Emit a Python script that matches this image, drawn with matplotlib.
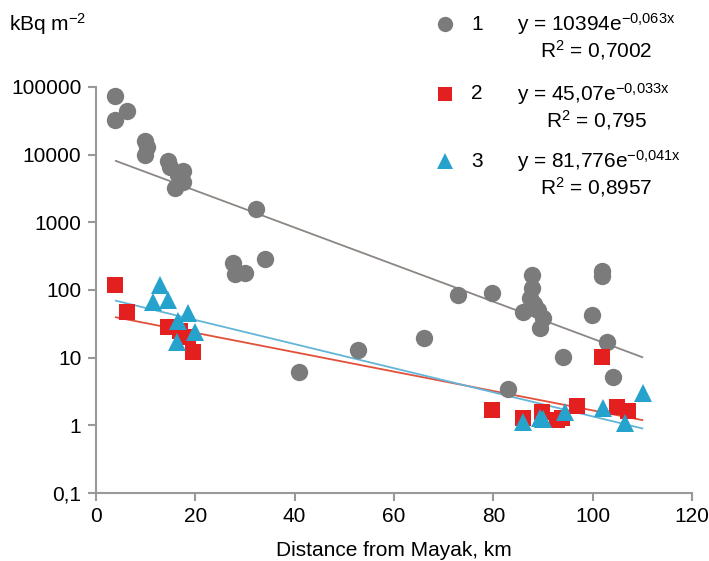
"""Radionuclide deposition vs distance from Mayak."""
import matplotlib

matplotlib.use("Agg")
import matplotlib.pyplot as plt
import matplotlib.ticker as ticker
import numpy

plt.rcParams["font.family"] = ["Liberation Sans", "DejaVu Sans"]
plt.rcParams["font.size"] = 15

# series 1 (grey circles)
dist_1 = [3.8, 3.8, 6.3, 9.9, 10.2, 9.9, 14.5, 15.0, 16.5, 17.5, 17.5, 16.0,
          32.2, 27.6, 28.0, 30.0, 34.0, 40.9, 52.7, 66.0, 72.9, 79.7,
          83.0, 87.8, 87.8, 87.4, 88.2, 86.0, 89.0, 90.0, 89.4, 94.0,
          99.9, 101.9, 101.9, 102.9, 104.1]
val_1 = [73000, 32500, 44000, 16000, 13000, 10000, 8000, 6500, 5000, 5800, 4000, 3200,
         1570, 250, 175, 180, 290, 6.1, 13, 19.5, 84, 90,
         3.4, 165, 107, 76, 62, 47, 50, 38, 27, 10.2,
         42, 190, 160, 17, 5.2]

# series 2 (red squares)
dist_2 = [3.8, 6.2, 14.5, 17.0, 18.5, 19.5, 79.7, 86.0, 89.8, 92.8, 93.8,
          96.8, 101.9, 104.9, 107.1]
val_2 = [118, 48, 28, 25, 20, 12, 1.69, 1.28, 1.6, 1.2, 1.3,
         1.9, 10.2, 1.85, 1.65]

# series 3 (blue triangles)
dist_3 = [12.9, 11.5, 14.5, 18.5, 16.5, 19.9, 16.3,
          86.0, 89.4, 90.0, 94.4, 102.0, 106.5, 110.1]
val_3 = [120, 66, 71, 45, 35, 24, 17,
         1.12, 1.29, 1.22, 1.57, 1.8, 1.07, 3.0]

# exponential fits y = a * exp(b * x)
fit_a = [10394, 45.07, 81.776]
fit_b = [-0.063, -0.033, -0.041]
fit_eq = ["y = 10394$\\mathregular{e^{-0{,}063x}}$",
          "y = 45,07$\\mathregular{e^{-0{,}033x}}$",
          "y = 81,776$\\mathregular{e^{-0{,}041x}}$"]
fit_r2 = ["R$\\mathregular{^2}$ = 0,7002",
          "R$\\mathregular{^2}$ = 0,795",
          "R$\\mathregular{^2}$ = 0,8957"]
fit_range = (4, 110)

y_ticks = [0.1, 1, 10, 100, 1000, 10000, 100000]
y_labels = ["0,1", "1", "10", "100", "1000", "10000", "100000"]

colors = ["#7b7b7b", "#e3201f", "#26a3cc"]
line_colors = ["#8c8683", "#e2503a", "#63b5d8"]
markers = ["o", "s", "^"]
sizes = [12.5, 11, 12.5]

fig = plt.figure(figsize=(7.09, 5.61), dpi=100)
ax = fig.add_axes([0.1354, 0.1212, 0.8406, 0.7238])

xs = numpy.linspace(fit_range[0], fit_range[1], 50)
for a, b, c in zip(fit_a, fit_b, line_colors):
    ax.plot(xs, a * numpy.exp(b * xs), color=c, lw=1.3, zorder=2)

for d, v, c, m, s in zip([dist_1, dist_2, dist_3], [val_1, val_2, val_3],
                         colors, markers, sizes):
    ax.plot(d, v, m, color=c, markersize=s, markeredgewidth=0, zorder=3)

ax.set_yscale("log")
ax.set_ylim(0.1, 100000)
ax.set_xlim(0, 120)
ax.set_yticks(y_ticks)
ax.set_yticklabels(y_labels)
ax.yaxis.set_minor_locator(ticker.NullLocator())
ax.set_xticks(numpy.arange(0, 121, 20))
ax.tick_params(color="#999999", width=1.5, length=5.5, labelsize=15)
ax.tick_params(axis="y", pad=5)
ax.tick_params(axis="x", pad=4.5)
for side in ["top", "right"]:
    ax.spines[side].set_visible(False)
for side in ["left", "bottom"]:
    ax.spines[side].set_color("#999999")
    ax.spines[side].set_linewidth(1.5)
ax.set_xlabel("Distance from Mayak, km", fontsize=15, labelpad=11)

fig.text(0.013, 0.958, "kBq m$\\mathregular{^{-2}}$", fontsize=15, va="center")

# legend block
rows_y = [0.957, 0.833, 0.713]
for i in range(3):
    fig.lines.append(plt.Line2D([0.628], [rows_y[i]], marker=markers[i],
                                color=colors[i], markersize=sizes[i] - 1.5,
                                markeredgewidth=0, transform=fig.transFigure))
    fig.text(0.665, rows_y[i], str(i + 1), fontsize=15, va="center")
    fig.text(0.729, rows_y[i], fit_eq[i], fontsize=15, va="center")
    fig.text(0.841, rows_y[i] - 0.047, fit_r2[i], fontsize=15, va="center",
             ha="center")

plt.savefig("out.png", dpi=100)
